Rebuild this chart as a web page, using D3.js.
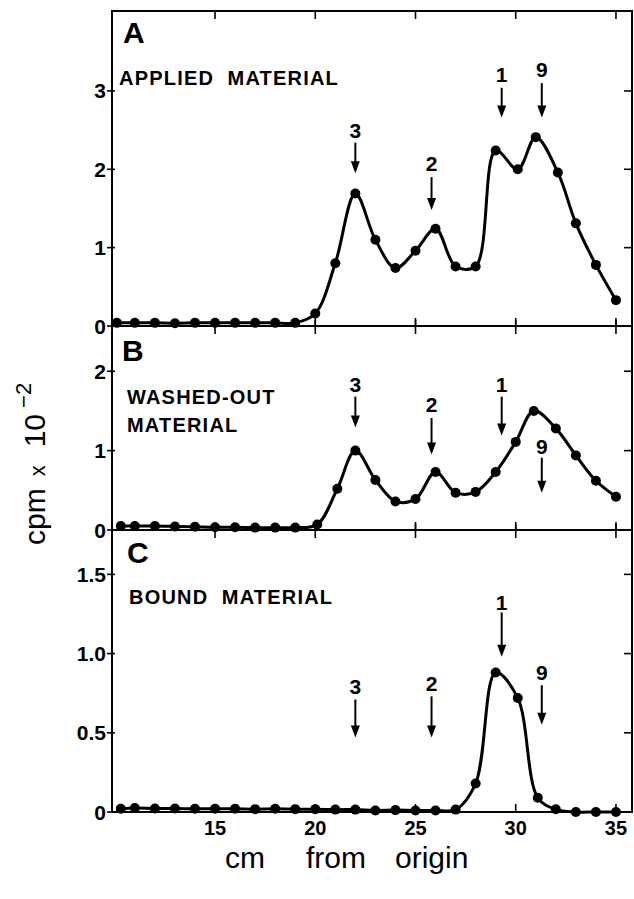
<!DOCTYPE html>
<html><head><meta charset="utf-8">
<script src="https://cdn.jsdelivr.net/npm/d3@7"></script>
<style>
body{margin:0;background:#fff;}
svg{display:block;}
text{font-family:"Liberation Sans",Arial,sans-serif;fill:#000;}
</style></head>
<body>
<script>
// ---- data ----
const xTicks = [15, 20, 25, 30, 35];
const xTickLabels = ["15", "20", "25", "30", "35"];

const panelLetters = ["A", "B", "C"];
const panelTitles = [["APPLIED  MATERIAL"], ["WASHED-OUT", "MATERIAL"], ["BOUND  MATERIAL"]];

const yTicksA = [0, 1, 2, 3];
const yTickLabelsA = ["0", "1", "2", "3"];
const yTicksB = [0, 1, 2];
const yTickLabelsB = ["0", "1", "2"];
const yTicksC = [0, 0.5, 1.0, 1.5];
const yTickLabelsC = ["0", "0.5", "1.0", "1.5"];

const cmA = [10.1, 11, 12, 13, 14, 15, 16, 17, 18, 19, 20, 21, 22, 23, 24, 25, 26, 27, 28, 29, 30.1, 31, 32.1, 33, 34, 35];
const cpmA = [0.04, 0.04, 0.04, 0.035, 0.04, 0.04, 0.04, 0.04, 0.04, 0.04, 0.16, 0.80, 1.69, 1.10, 0.74, 0.96, 1.24, 0.76, 0.76, 2.24, 2.00, 2.41, 1.96, 1.31, 0.78, 0.33];

const cmB = [10.3, 11, 12, 13, 14, 15, 16, 17, 18, 19, 20.1, 21.1, 22, 23, 24, 25, 26, 27, 28, 29, 30, 30.9, 32, 33, 34, 35];
const cpmB = [0.05, 0.05, 0.05, 0.045, 0.04, 0.035, 0.035, 0.03, 0.03, 0.03, 0.07, 0.52, 1.00, 0.63, 0.36, 0.39, 0.73, 0.47, 0.48, 0.73, 1.11, 1.50, 1.28, 0.94, 0.62, 0.42];

const cmC = [10.3, 11, 12, 13, 14, 15, 16, 17, 18, 19, 20, 21, 22, 23, 24, 25, 26, 27, 28, 29, 30.1, 31.1, 32, 33, 34, 35];
const cpmC = [0.02, 0.025, 0.022, 0.022, 0.02, 0.02, 0.02, 0.018, 0.02, 0.018, 0.018, 0.015, 0.015, 0.01, 0.012, 0.01, 0.01, 0.015, 0.18, 0.88, 0.72, 0.09, 0.017, 0, 0, 0];

// marker arrows: label, position (cm), label y, arrow top, arrow tip (cpm x 10^-2)
const markerNames = ["3", "2", "1", "9"];
const markerCm = [22.0, 25.8, 29.3, 31.3];
const markerLabelA = [2.50, 2.08, 3.21, 3.27];
const markerTopA = [2.34, 1.90, 3.04, 3.10];
const markerTipA = [1.95, 1.48, 2.66, 2.66];
const markerLabelB = [1.83, 1.58, 1.83, 1.05];
const markerTopB = [1.68, 1.41, 1.68, 0.91];
const markerTipB = [1.29, 0.95, 1.19, 0.47];
const markerLabelC = [0.79, 0.81, 1.32, 0.88];
const markerTopC = [0.71, 0.73, 1.26, 0.80];
const markerTipC = [0.47, 0.47, 0.98, 0.55];

// ---- layout ----
const W = 634, H = 899;
const L = 112, R = 632;
const svg = d3.select("body").append("svg").attr("width", W).attr("height", H);

const x = d3.scaleLinear().domain([9.86, 35.8]).range([L, R]);

const panels = [
  {top: 11, bottom: 326, max: 4.02, cm: cmA, v: cpmA, yt: yTicksA, ytl: yTickLabelsA,
   ml: markerLabelA, mt: markerTopA, mp: markerTipA, tx: 119, ty: [85]},
  {top: 326, bottom: 530, max: 2.57, cm: cmB, v: cpmB, yt: yTicksB, ytl: yTickLabelsB,
   ml: markerLabelB, mt: markerTopB, mp: markerTipB, tx: 127, ty: [404, 432]},
  {top: 530, bottom: 812, max: 1.78, cm: cmC, v: cpmC, yt: yTicksC, ytl: yTickLabelsC,
   ml: markerLabelC, mt: markerTopC, mp: markerTipC, tx: 129, ty: [604]}
];
const letterY = [43, 361, 563];
const letterX = [123, 122, 127];

panels.forEach((p, i) => {
  const y = d3.scaleLinear().domain([0, p.max]).range([p.bottom, p.top]);
  const g = svg.append("g");

  g.selectAll("line.yl").data(p.yt).join("line")
    .attr("x1", L - 5).attr("x2", L + 3).attr("y1", d => y(d)).attr("y2", d => y(d))
    .attr("stroke", "#000").attr("stroke-width", 1.6);
  g.selectAll("text.yl").data(p.yt).join("text")
    .attr("x", L - 6).attr("y", d => y(d)).attr("dy", "0.36em")
    .attr("text-anchor", "end").attr("font-size", 21).attr("font-weight", "bold")
    .text((d, k) => p.ytl[k]);
  g.selectAll("line.yr").data(p.yt.filter(d => d > 0)).join("line")
    .attr("x1", R - 8).attr("x2", R).attr("y1", d => y(d)).attr("y2", d => y(d))
    .attr("stroke", "#000").attr("stroke-width", 1.6);

  g.selectAll("line.xt").data(xTicks).join("line")
    .attr("x1", d => x(d)).attr("x2", d => x(d))
    .attr("y1", p.top - (i === 0 ? 0 : 6)).attr("y2", p.top + 8)
    .attr("stroke", "#000").attr("stroke-width", 1.6);
  g.selectAll("line.xb").data(xTicks).join("line")
    .attr("x1", d => x(d)).attr("x2", d => x(d))
    .attr("y1", p.bottom - 8).attr("y2", p.bottom)
    .attr("stroke", "#000").attr("stroke-width", 1.6);

  g.append("text").attr("x", letterX[i]).attr("y", letterY[i])
    .attr("font-size", 30).attr("font-weight", "bold").text(panelLetters[i]);
  panelTitles[i].forEach((t, k) => {
    g.append("text").attr("x", p.tx).attr("y", p.ty[k])
      .attr("font-size", 20).attr("font-weight", "bold")
      .attr("letter-spacing", 1.2).style("white-space", "pre").text(t);
  });

  const pts = p.cm.map((c, k) => [c, p.v[k]]);
  g.append("path").datum(pts)
    .attr("d", d3.line().x(d => x(d[0])).y(d => y(d[1])).curve(d3.curveCatmullRom.alpha(0.5)))
    .attr("fill", "none").attr("stroke", "#000").attr("stroke-width", 3);
  g.selectAll("circle").data(pts).join("circle")
    .attr("cx", d => x(d[0])).attr("cy", d => y(d[1])).attr("r", 5).attr("fill", "#000");

  markerNames.forEach((nm, k) => {
    const cx = x(markerCm[k]);
    const yTop = y(p.mt[k]), yTip = y(p.mp[k]);
    g.append("text").attr("x", cx).attr("y", y(p.ml[k])).attr("dy", "0.36em")
      .attr("text-anchor", "middle").attr("font-size", 21).attr("font-weight", "bold").text(nm);
    g.append("line").attr("x1", cx).attr("x2", cx).attr("y1", yTop).attr("y2", yTip - 8)
      .attr("stroke", "#000").attr("stroke-width", 2);
    g.append("path")
      .attr("d", `M${cx - 4.5},${yTip - 12}L${cx + 4.5},${yTip - 12}L${cx},${yTip}Z`)
      .attr("fill", "#000");
  });
});

svg.append("rect").attr("x", L).attr("y", 11).attr("width", R - L).attr("height", 812 - 11)
  .attr("fill", "none").attr("stroke", "#000").attr("stroke-width", 2);
[326, 530].forEach(yy => svg.append("line").attr("x1", L).attr("x2", R).attr("y1", yy).attr("y2", yy)
  .attr("stroke", "#000").attr("stroke-width", 2));

svg.selectAll("text.xl").data(xTicks).join("text")
  .attr("x", d => x(d)).attr("y", 835).attr("text-anchor", "middle")
  .attr("font-size", 20).attr("font-weight", "bold").text((d, k) => xTickLabels[k]);

const xt = svg.append("text").attr("y", 868).attr("font-size", 30);
xt.append("tspan").attr("x", 225).text("cm");
xt.append("tspan").attr("x", 306).text("from");
xt.append("tspan").attr("x", 395).text("origin");

const yt = svg.append("text").attr("transform", "translate(45,545) rotate(-90)").attr("font-size", 30);
yt.append("tspan").text("cpm");
yt.append("tspan").attr("dx", 12).attr("font-size", 22).text("x");
yt.append("tspan").attr("dx", 18).text("10");
yt.append("tspan").attr("dx", 6).attr("dy", -14).attr("font-size", 22).text("−2");
</script>
</body></html>
